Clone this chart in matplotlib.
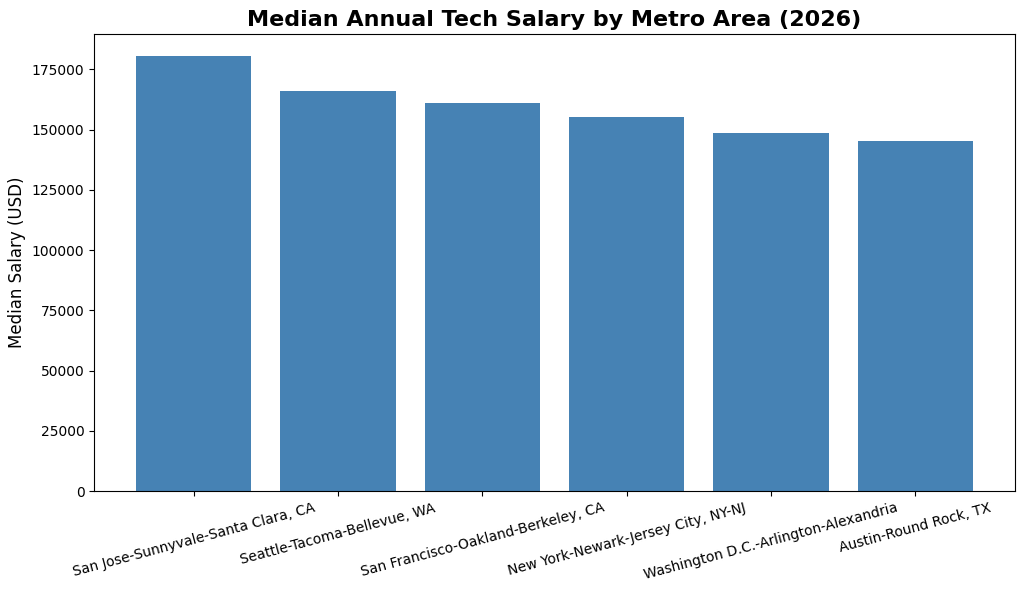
import matplotlib
matplotlib.use("Agg")
import matplotlib.pyplot as plt

metros = ["San Jose-Sunnyvale-Santa Clara, CA", "Seattle-Tacoma-Bellevue, WA",
          "San Francisco-Oakland-Berkeley, CA", "New York-Newark-Jersey City, NY-NJ",
          "Washington D.C.-Arlington-Alexandria", "Austin-Round Rock, TX"]
salaries = [180500, 166000, 161000, 155000, 148500, 145300]

fig, ax = plt.subplots(figsize=(10.24, 5.91), dpi=100)
ax.bar(metros, salaries, color="steelblue")
ax.set_title("Median Annual Tech Salary by Metro Area (2026)", fontsize=16, fontweight="bold")
ax.set_ylabel("Median Salary (USD)", fontsize=12)
plt.xticks(rotation=15)
fig.subplots_adjust(left=0.092, right=0.991, top=0.942, bottom=0.169)
fig.savefig("out.png")
